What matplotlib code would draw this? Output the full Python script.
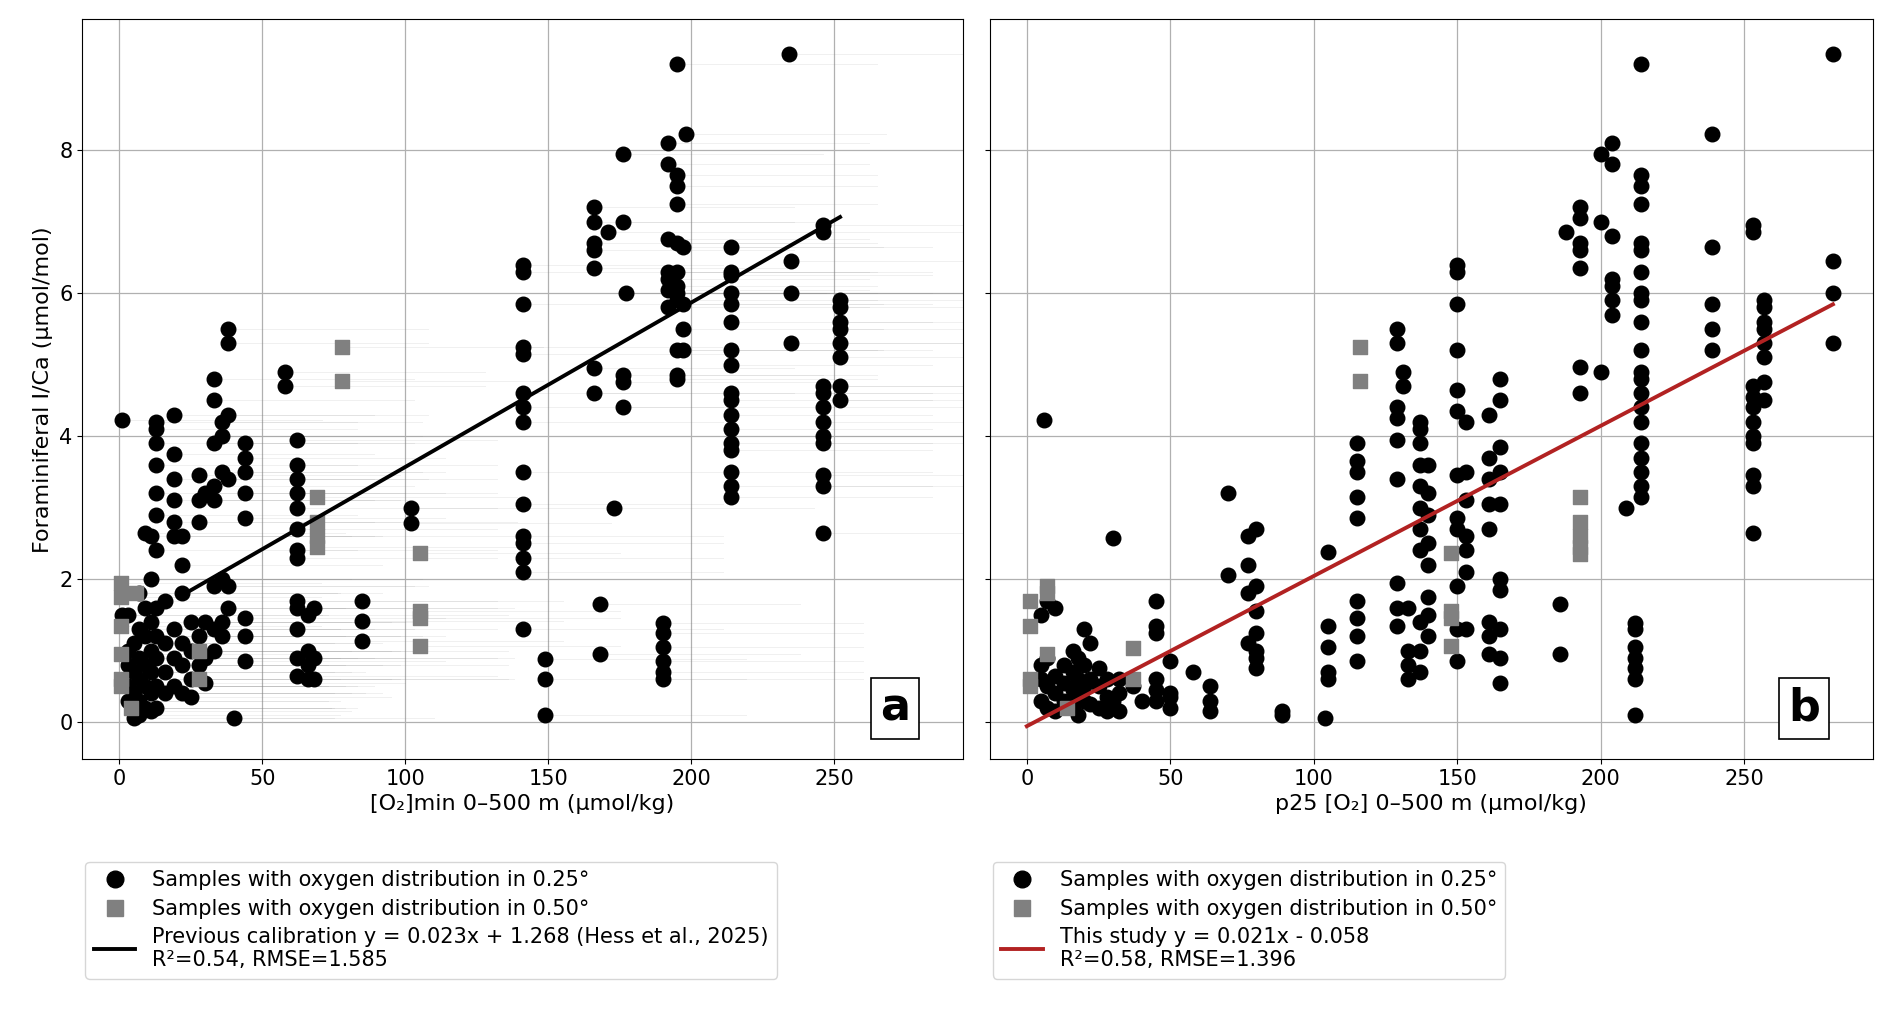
import numpy as np
import matplotlib.pyplot as plt
from matplotlib.lines import Line2D

# panel a: [O2]min columns (x, list of I/Ca)
a_circ = [
    (1, [4.22, 1.5]), (3, [0.3, 0.5, 0.8, 1.0, 1.5]), (5, [0.05, 0.2, 0.4, 0.7, 1.1]),
    (7, [0.1, 0.3, 0.6, 0.9, 1.3, 1.8]), (9, [0.2, 0.5, 0.8, 1.2, 1.6, 2.65]),
    (11, [0.15, 0.4, 0.7, 1.0, 1.4, 2.0, 2.6]),
    (13, [0.2, 0.5, 0.9, 1.2, 1.6, 2.4, 2.9, 3.2, 3.6, 3.9, 4.1, 4.2]),
    (16, [0.4, 0.7, 1.1, 1.7]), (19, [0.5, 0.9, 1.3, 2.6, 2.8, 3.1, 3.4, 3.75, 4.3]),
    (22, [0.4, 0.8, 1.1, 1.8, 2.2, 2.6]), (25, [0.35, 0.6, 1.0, 1.4]),
    (28, [0.8, 1.2, 2.8, 3.1, 3.45]), (30, [0.55, 0.9, 1.4, 3.2]),
    (33, [1.0, 1.3, 1.9, 3.1, 3.3, 3.9, 4.5, 4.8]), (36, [1.2, 1.4, 2.0, 3.5, 4.0, 4.2]),
    (38, [1.6, 1.9, 3.4, 4.3, 5.3, 5.5]), (40, [0.05]),
    (44, [0.85, 1.2, 1.45, 2.85, 3.2, 3.5, 3.7, 3.9]), (58, [4.7, 4.9]),
    (62, [0.65, 0.9, 1.3, 1.6, 1.7, 2.3, 2.4, 2.7, 3.0, 3.2, 3.4, 3.6, 3.95]),
    (66, [0.6, 0.8, 1.0, 1.5]), (68, [0.6, 0.9, 1.6]), (85, [1.13, 1.42, 1.7]),
    (102, [2.78, 3.0]),
    (141, [1.3, 2.1, 2.3, 2.5, 2.6, 3.05, 3.5, 4.2, 4.4, 4.6, 5.15, 5.25, 5.85, 6.3, 6.4]),
    (149, [0.1, 0.6, 0.88]), (166, [4.6, 4.95, 6.35, 6.6, 6.7, 7.0, 7.2]),
    (168, [0.95, 1.65]), (171, [6.85]), (173, [3.0]), (176, [4.4, 4.75, 4.85, 7.0, 7.95]),
    (177, [6.0]), (190, [0.6, 0.7, 0.85, 1.05, 1.25, 1.38]),
    (192, [5.8, 6.05, 6.2, 6.3, 6.75, 7.8, 8.1]),
    (195, [4.8, 4.85, 5.2, 5.9, 6.0, 6.1, 6.3, 6.7, 7.25, 7.5, 7.65, 9.2]),
    (197, [5.2, 5.5, 5.85, 6.65]), (198, [8.22]),
    (214, [3.15, 3.3, 3.5, 3.8, 3.9, 4.1, 4.3, 4.5, 4.6, 5.0, 5.2, 5.6, 5.85, 6.0, 6.25, 6.3, 6.65]),
    (234, [9.35]), (235, [5.3, 6.0, 6.45]),
    (246, [2.65, 3.3, 3.45, 3.9, 4.0, 4.2, 4.4, 4.6, 4.7, 6.85, 6.95]),
    (252, [4.5, 4.7, 5.1, 5.3, 5.5, 5.6, 5.8, 5.9]),
]
a_sq = [(0.5, [1.95, 1.75, 1.35, 0.95, 0.6, 0.5]), (4, [0.2]), (6, [1.8]), (28, [1.0, 0.6]),
        (69, [3.15, 2.8, 2.6, 2.45]), (78, [5.25, 4.77]), (105, [2.37, 1.55, 1.45, 1.07])]

# panel b: p25 [O2]
b_circ = [
    (6, [4.22]), (5, [0.3, 0.6, 0.8, 1.5]), (7, [0.2, 0.5, 0.9, 1.7]), (10, [0.15, 0.4, 0.65, 1.6]),
    (13, [0.3, 0.55, 0.8]), (16, [0.2, 0.45, 0.7, 1.0]), (18, [0.1, 0.35, 0.6, 0.9]),
    (20, [0.3, 0.5, 0.8, 1.3]), (22, [0.25, 0.6, 1.1]), (25, [0.2, 0.5, 0.75]),
    (28, [0.15, 0.35, 0.6]), (30, [0.3, 2.58]), (32, [0.15, 0.4, 0.6]), (37, [0.5]), (40, [0.3]),
    (45, [0.3, 0.45, 0.6, 1.25, 1.35, 1.7]), (50, [0.2, 0.35, 0.4, 0.85]), (58, [0.7]),
    (64, [0.15, 0.3, 0.5]), (70, [2.05, 3.2]), (77, [1.1, 1.8, 2.2, 2.6]),
    (80, [0.75, 0.9, 1.0, 1.25, 1.55, 1.9, 2.7]), (89, [0.1, 0.15]), (104, [0.05]),
    (105, [0.6, 0.7, 1.05, 1.35, 2.38]), (115, [0.85, 1.2, 1.45, 1.7, 2.85, 3.15, 3.5, 3.65, 3.9]),
    (129, [1.35, 1.6, 1.95, 3.4, 3.95, 4.25, 4.4, 5.3, 5.5]), (131, [4.7, 4.9]),
    (133, [0.6, 0.8, 1.0, 1.6]), (137, [0.7, 1.0, 1.4, 2.4, 2.7, 3.0, 3.3, 3.6, 3.9, 4.1, 4.2]),
    (140, [1.2, 1.5, 1.75, 2.2, 2.5, 2.9, 3.2, 3.6]),
    (150, [0.85, 1.3, 1.9, 2.7, 2.85, 3.45, 4.35, 4.65, 5.2, 5.85, 6.3, 6.4]),
    (153, [1.3, 2.1, 2.4, 2.6, 3.1, 3.5, 4.2]), (161, [0.95, 1.2, 1.4, 2.7, 3.05, 3.4, 3.7, 4.3]),
    (165, [0.55, 0.9, 1.3, 1.85, 2.0, 3.05, 3.5, 3.85, 4.5, 4.8]), (186, [0.95, 1.65]),
    (188, [6.85]), (193, [4.6, 4.97, 6.35, 6.6, 6.7, 7.05, 7.2]), (200, [4.9, 7.0, 7.95]),
    (204, [5.7, 5.9, 6.1, 6.2, 6.8, 7.8, 8.1]), (209, [3.0]),
    (212, [0.1, 0.6, 0.75, 0.9, 1.05, 1.3, 1.38]),
    (214, [3.15, 3.3, 3.5, 3.7, 3.9, 4.2, 4.4, 4.6, 4.8, 4.9, 5.2, 5.6, 5.9, 6.0, 6.3, 6.6, 6.7,
           7.25, 7.5, 7.65, 9.2]),
    (239, [5.2, 5.5, 5.85, 6.65, 8.22]),
    (253, [2.65, 3.3, 3.45, 3.9, 4.0, 4.2, 4.4, 4.55, 4.7, 6.85, 6.95]),
    (257, [4.5, 4.75, 5.1, 5.3, 5.5, 5.6, 5.8, 5.9]), (281, [5.3, 6.0, 6.45, 9.35]),
]
b_sq = [(1, [0.5, 0.6, 1.35, 1.7]), (7, [1.8, 1.9, 0.95]), (14, [0.2]), (37, [1.03, 0.6]),
        (116, [5.25, 4.77]), (148, [2.37, 1.55, 1.45, 1.07]), (193, [3.15, 2.8, 2.6, 2.45, 2.35])]

fit_a = (0.023, 1.268, 22, 252)
fit_b = (0.021, -0.058, 0, 281)


def flat(cols):
    xs, ys = [], []
    for x, vals in cols:
        xs += [x] * len(vals)
        ys += vals
    return np.array(xs, float), np.array(ys, float)


plt.rcParams["font.size"] = 15
fig = plt.figure(figsize=(18.92, 10.15), dpi=100)
ax_a = fig.add_axes([0.0434, 0.252, 0.4656, 0.729])
ax_b = fig.add_axes([0.523, 0.252, 0.467, 0.729], sharey=ax_a)

panels = [
    (ax_a, a_circ, a_sq, fit_a, "black", "[O\u2082]min 0\u2013500 m (\u00b5mol/kg)", "a",
     "Previous calibration y = 0.023x + 1.268 (Hess et al., 2025)\nR\u00b2=0.54, RMSE=1.585"),
    (ax_b, b_circ, b_sq, fit_b, "#b22222", "p25 [O\u2082] 0\u2013500 m (\u00b5mol/kg)", "b",
     "This study y = 0.021x - 0.058\nR\u00b2=0.58, RMSE=1.396"),
]

for ax, circ, sq, fit, fc, xlabel, tag, fitlab in panels:
    cx, cy = flat(circ)
    sx, sy = flat(sq)
    if tag == "a":
        # faint ranges of the oxygen distribution
        for x, y in zip(np.r_[cx, sx], np.r_[cy, sy]):
            ax.plot([x, x + 70], [y, y], color="gray", lw=0.7, alpha=0.12, zorder=1)
    ax.scatter(cx, cy, s=110, color="black", zorder=3)
    ax.scatter(sx, sy, s=110, marker="s", color="gray", zorder=4)
    k, b, x0, x1 = fit
    xx = np.array([x0, x1])
    ax.plot(xx, k * xx + b, color=fc, lw=2.8, zorder=5)
    ax.set_xlim(-13, 295)
    ax.set_ylim(-0.52, 9.83)
    ax.set_xticks([0, 50, 100, 150, 200, 250])
    ax.set_yticks([0, 2, 4, 6, 8])
    ax.grid(True, color="#b0b0b0", lw=0.9)
    ax.set_axisbelow(True)
    ax.set_xlabel(xlabel, fontsize=16)
    ax.tick_params(labelsize=15)
    ax.text(0.94, 0.04, tag, transform=ax.transAxes, ha="right", va="bottom",
            fontsize=32, fontweight="bold",
            bbox=dict(boxstyle="square,pad=0.2", fc="white", ec="black", lw=1.2))
    handles = [
        Line2D([], [], marker="o", ls="", color="black", ms=12),
        Line2D([], [], marker="s", ls="", color="gray", ms=12),
        Line2D([], [], color=fc, lw=2.8),
    ]
    labels = ["Samples with oxygen distribution in 0.25\u00b0",
              "Samples with oxygen distribution in 0.50\u00b0", fitlab]
    ax.legend(handles, labels, loc="upper left", bbox_to_anchor=(-0.008, -0.125),
              fontsize=15, frameon=True, labelspacing=0.4)

ax_a.set_ylabel("Foraminiferal I/Ca (\u00b5mol/mol)", fontsize=16)
plt.setp(ax_b.get_yticklabels(), visible=False)

fig.savefig("out.png")
